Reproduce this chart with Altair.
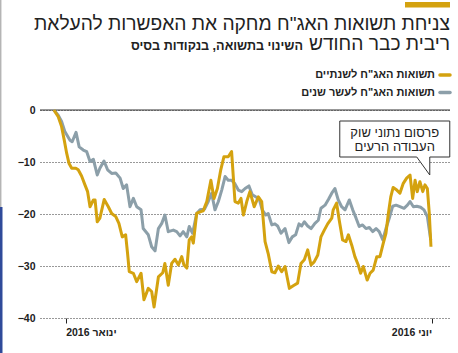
import altair as alt
import pandas as pd

# ---------------- text ----------------
TITLE_1 = "צניחת תשואות האג\"ח מחקה את האפשרות להעלאת"
TITLE_2 = "ריבית כבר החודש"
SUBTITLE = "השינוי בתשואה, בנקודות בסיס"
SERIES = ["תשואות האג\"ח לשנתיים", "תשואות האג\"ח לעשר שנים"]
COLORS = ["#d4a20f", "#8c9fa9"]
NOTE = ["פרסום נתוני שוק", "העבודה הרעים"]

x_ticks = [0, 152]                      # days since 1 Jan 2016
x_tick_labels = ["2016 ינואר", "2016 יוני"]
y_ticks = [0, -10, -20, -30, -40]

# ---------------- data (change in yield, basis points) ----------------
# 10-year
ten_day = [-4.9, -3.1, -1.7, -0.3, 1.8, 2.7, 4.3, 5.6, 7.3, 8.7, 10.1, 11.5, 13.1, 14.2, 15.9,
           17.4, 19.1, 20.8, 22.6, 23.9, 25.3, 26.7, 28.1, 29.5, 31.3, 32.2, 34.3, 35.7, 37.1,
           38.5, 39.9, 41.2, 42.6, 44.7, 46.1, 47.5, 48.8, 50.3, 51.3, 52.7, 54.4, 55.8, 57.6,
           59.2, 60.6, 62.0, 63.4, 64.8, 66.2, 67.5, 68.9, 70.3, 71.7, 73.1, 74.5, 76.1, 77.5,
           78.9, 80.3, 81.6, 83.1, 84.1, 85.6, 86.9, 88.0, 89.4, 91.1, 92.7, 94.1, 95.5, 96.9,
           98.0, 99.1, 100.5, 101.9, 103.5, 104.9, 106.0, 107.7, 109.1, 110.5, 111.8, 113.2,
           114.6, 116.0, 117.8, 119.2, 120.6, 121.9, 123.3, 124.7, 126.1, 127.5, 128.9, 130.2,
           131.7, 133.0, 134.4, 135.8, 137.2, 138.8, 140.5, 141.9, 143.0, 144.4, 145.8, 147.4,
           148.8, 150.2, 151.6]
ten_val = [0, -1.0, -2.2, -4.2, -5.8, -6.1, -4.3, -7.1, -7.7, -8.0, -9.9, -9.5, -12.5, -11.2, -9.8,
           -11.5, -12.2, -12.1, -13.1, -15.1, -14.4, -18.6, -17.0, -18.6, -19.2, -22.8, -24.0,
           -26.3, -27.1, -22.8, -21.8, -20.2, -23.4, -23.1, -23.4, -24.2, -23.4, -24.4, -22.4,
           -23.7, -19.9, -19.2, -19.1, -17.6, -16.0, -19.2, -17.6, -15.4, -12.8, -13.5, -13.5,
           -14.2, -15.4, -15.7, -15.1, -14.6, -16.3, -16.7, -17.0, -19.2, -20.2, -19.9, -22.1,
           -21.9, -22.3, -23.7, -22.8, -25.5, -24.4, -24.0, -21.9, -22.3, -21.5, -22.3, -22.8,
           -21.8, -21.2, -18.9, -18.3, -17.2, -16.0, -15.1, -17.3, -18.6, -19.2, -17.3, -19.2,
           -20.8, -22.4, -22.1, -22.8, -22.6, -23.4, -22.8, -23.4, -25.0, -22.8, -20.8, -18.5,
           -18.3, -18.6, -18.9, -18.3, -17.6, -18.6, -18.5, -18.7, -19.2, -20.5, -25.0]
# 2-year
two_day = [-4.9, -3.1, -1.7, -0.6, 0.4, 1.4, 2.5, 4.2, 5.2, 6.6, 8.0, 9.1, 10.1, 11.5, 12.2, 13.1,
           14.2, 16.0, 17.7, 19.1, 20.8, 22.1, 23.5, 24.9, 25.7, 26.4, 28.1, 29.5, 31.3, 32.5,
           34.3, 35.7, 36.7, 38.5, 40.3, 41.2, 42.6, 44.0, 45.4, 46.8, 48.2, 49.1, 50.3, 51.3,
           52.3, 53.0, 54.4, 55.8, 57.1, 58.6, 60.3, 61.6, 63.0, 64.4, 65.7, 67.5, 68.9, 70.3,
           71.7, 72.8, 73.8, 75.2, 76.5, 78.3, 80.0, 81.4, 82.8, 84.1, 85.6, 86.9, 88.3, 89.7,
           91.1, 92.2, 92.9, 94.5, 96.3, 97.7, 99.1, 100.5, 101.9, 103.2, 104.7, 106.0, 107.4,
           108.8, 110.5, 111.1, 112.5, 113.6, 115.0, 116.4, 117.4, 118.8, 120.1, 121.5, 122.5,
           123.6, 125.2, 126.4, 127.7, 129.2, 130.5, 131.9, 133.0, 134.0, 135.0, 136.0, 137.5,
           138.8, 140.2, 141.6, 143.0, 144.1, 145.1, 146.0, 147.1, 148.3, 149.2, 150.2, 151.0,
           151.7]
two_val = [0, -1.3, -3.2, -5.8, -8.3, -10.3, -11.2, -11.2, -11.5, -12.7, -14.4, -15.7, -18.6, -17.3,
           -17.3, -21.5, -20.8, -17.2, -18.6, -19.9, -20.5, -21.8, -24.4, -24.0, -27.6, -31.1,
           -31.4, -33.0, -31.4, -36.5, -34.3, -34.9, -37.9, -32.1, -31.3, -29.5, -33.7, -29.5,
           -28.7, -29.8, -28.2, -29.8, -30.4, -25.0, -24.4, -25.6, -19.9, -19.6, -19.4, -17.6,
           -13.5, -17.0, -15.1, -11.5, -9.0, -9.0, -8.0, -17.6, -17.9, -17.0, -20.2, -17.6,
           -15.7, -18.6, -16.7, -17.6, -25.3, -27.6, -31.1, -31.3, -30.0, -31.1, -30.1, -32.7,
           -34.3, -33.8, -33.3, -29.5, -28.8, -26.9, -29.8, -29.2, -27.9, -24.4, -23.1, -21.9,
           -20.8, -19.2, -17.9, -21.2, -25.0, -25.3, -24.0, -26.0, -28.2, -29.8, -31.4, -30.1,
           -32.7, -31.4, -30.8, -28.2, -28.2, -25.6, -23.7, -19.9, -16.7, -14.9, -15.4, -16.0,
           -14.1, -13.1, -12.5, -17.0, -13.5, -15.7, -13.8, -15.7, -14.4, -15.1, -19.9, -26.3]

note_day = [151.2]
note_value = [-12.5]

FONT = "Liberation Sans"
INK = "#222222"

df_two = pd.DataFrame({"day": two_day, "value": two_val, "series": SERIES[0]})
df_ten = pd.DataFrame({"day": ten_day, "value": ten_val, "series": SERIES[1]})
df_note = pd.DataFrame({"day": note_day, "value": note_value})
df_zero = pd.DataFrame({"value": [0]})
one = pd.DataFrame({"a": [0]})

label_expr = " : ".join(
    [f"datum.value == {v} ? '{t}'" for v, t in zip(x_ticks[:-1], x_tick_labels[:-1])]
    + [f"'{x_tick_labels[-1]}'"]
)

x_enc = alt.X(
    "day:Q",
    scale=alt.Scale(domain=[-10.67, 159.6], nice=False, zero=False),
    axis=alt.Axis(
        values=x_ticks, labelExpr=label_expr, title=None, grid=False, domain=False,
        ticks=True, tickSize=5, tickColor=INK, tickWidth=1,
        labelAlign={"condition": {"test": "datum.value < 76", "value": "left"}, "value": "right"},
        labelFont=FONT, labelFontSize=10.5, labelFontWeight="bold", labelColor=INK,
        labelPadding=4,
    ),
)
y_enc = alt.Y(
    "value:Q",
    scale=alt.Scale(domain=[-40, 0], nice=False),
    axis=alt.Axis(
        values=y_ticks, title=None, domain=False, ticks=False, grid=True,
        gridDash=[1, 2], gridColor="#333333", gridWidth=1,
        labelFont=FONT, labelFontSize=10.5, labelFontWeight="bold", labelColor=INK,
        labelPadding=5,
    ),
)

zero_rule = alt.Chart(df_zero).mark_rule(color="#333333", strokeWidth=1.2).encode(y=y_enc)

line_ten = alt.Chart(df_ten).mark_line(strokeWidth=3, color=COLORS[1], strokeJoin="round").encode(
    x=x_enc, y=y_enc)
line_two = alt.Chart(df_two).mark_line(strokeWidth=3, color=COLORS[0], strokeJoin="round").encode(
    x=x_enc, y=y_enc)

callout = alt.Chart(df_note).mark_point(
    shape="M-90,-54L20,-54L20,-18L0,-18L0,0L-13,-18L-90,-18Z",
    size=4, filled=True, fill="white", stroke="#333333", strokeWidth=1, opacity=1,
).encode(x=x_enc, y=y_enc)
callout_text = alt.Chart(df_note).mark_text(
    font=FONT, fontSize=13, color=INK, align="center", baseline="alphabetic",
    dx=-35, dy=-38, lineHeight=14,
).encode(x=x_enc, y=y_enc, text=alt.value(NOTE))

def text_layer(txt, x, y, size, weight="normal", align="right", baseline="alphabetic"):
    return alt.Chart(one).mark_text(
        font=FONT, fontSize=size, fontWeight=weight, color=INK, align=align, baseline=baseline,
    ).encode(x=alt.value(x), y=alt.value(y), text=alt.value(txt))

title1 = text_layer(TITLE_1, 410, -80, 19.2)
title2 = text_layer(TITLE_2, 410, -60, 19.2)
subtitle = text_layer(SUBTITLE, 263, -60, 12.6, weight="bold")

leg_txt1 = text_layer(SERIES[0], 395, -35, 11, weight="bold", baseline="middle")
leg_txt2 = text_layer(SERIES[1], 395, -17.5, 11, weight="bold", baseline="middle")
leg_sw1 = alt.Chart(one).mark_rule(color=COLORS[0], strokeWidth=3.5, strokeCap="round").encode(
    x=alt.value(400), x2=alt.value(410), y=alt.value(-35))
leg_sw2 = alt.Chart(one).mark_rule(color=COLORS[1], strokeWidth=3.5, strokeCap="round").encode(
    x=alt.value(400), x2=alt.value(410), y=alt.value(-17.5))

gold_bar = alt.Chart(one).mark_rect(color=COLORS[0]).encode(
    x=alt.value(365), x2=alt.value(410), y=alt.value(-108), y2=alt.value(-102.5))
edge_gray = alt.Chart(one).mark_rule(color="#b5b5b5", strokeWidth=1.5).encode(
    x=alt.value(-39.3), y=alt.value(-110), y2=alt.value(97))
edge_blue = alt.Chart(one).mark_rect(color="#2f4a9a").encode(
    x=alt.value(-40), x2=alt.value(-37.5), y=alt.value(97), y2=alt.value(243))

chart = alt.layer(
    zero_rule, line_ten, line_two, callout, callout_text,
    title1, title2, subtitle, leg_sw1, leg_sw2, leg_txt1, leg_txt2,
    gold_bar, edge_gray, edge_blue,
).properties(
    width=410, height=208,
    autosize=alt.AutoSizeParams(type="none"),
    padding={"left": 40, "top": 110, "right": 8, "bottom": 35},
    background="white",
).configure_view(stroke=None)

chart.save("out.html", embed_options={"renderer": "svg", "actions": False})
